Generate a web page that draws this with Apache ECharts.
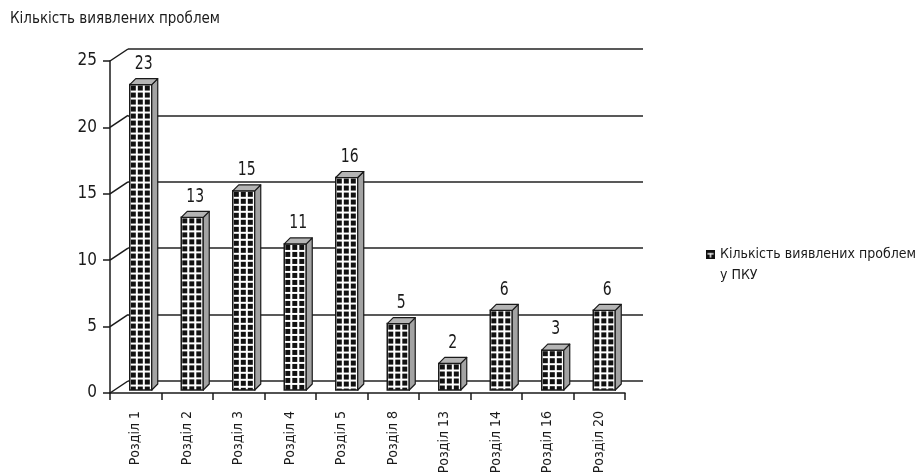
<!DOCTYPE html>
<html>
<head>
<meta charset="utf-8">
<script src="https://cdn.jsdelivr.net/npm/echarts@6/dist/echarts.min.js"></script>
<style>
  html, body { margin: 0; padding: 0; background: #ffffff; }
  #chart { width: 920px; height: 476px; }
</style>
</head>
<body>
<div id="chart"></div>
<script>
// Problems found per section of the tax code
const categories = ['Розділ 1', 'Розділ 2', 'Розділ 3', 'Розділ 4', 'Розділ 5',
                    'Розділ 8', 'Розділ 13', 'Розділ 14', 'Розділ 16', 'Розділ 20'];
const problemCounts = [23, 13, 15, 11, 16, 5, 2, 6, 3, 6];
const yTicks = [0, 5, 10, 15, 20, 25];
const seriesName = 'Кількість виявлених проблем\nу ПКУ';
const chartTitle = 'Кількість виявлених проблем';

const FONT = '"DejaVu Sans Condensed", "Liberation Sans", "Noto Sans", sans-serif';
const INK = '#1a1a1a';
const WALL_DX = 18, WALL_DY = -12;   // depth of the back wall
const BAR_DX = 6, BAR_DY = -6;       // depth of each bar
const BAR_SHIFT = 5, BAR_HALF = 11;  // front face placement inside the band
const BAR_LIFT = 3;                  // bars stand slightly behind the front edge

// black tile crossed by white lines: the "window grid" fill of the bars
function makeTile(size, gap) {
  const c = document.createElement('canvas');
  c.width = size; c.height = size;
  const g = c.getContext('2d');
  g.fillStyle = '#111';
  g.fillRect(0, 0, size, size);
  g.fillStyle = '#fff';
  g.fillRect(size - gap, 0, gap, size);
  g.fillRect(0, size - gap, size, gap);
  return c;
}
const tile = makeTile(7, 2);

function makeLegendIcon() {
  const c = document.createElement('canvas');
  c.width = 10; c.height = 10;
  const g = c.getContext('2d');
  g.fillStyle = '#111';
  g.fillRect(0, 0, 10, 10);
  g.fillStyle = '#fff';
  g.fillRect(1.5, 3.5, 7, 1.5);
  g.fillRect(4.2, 3.5, 1.5, 5);
  return c.toDataURL();
}

const chart = echarts.init(document.getElementById('chart'), null, { renderer: 'canvas' });

function renderWallEdges(params, api) {
  const p = api.coord([0, api.value(1)]);
  const half = api.size([1, 0])[0] / 2;
  const x0 = p[0] - half;
  return {
    type: 'line',
    shape: { x1: x0, y1: p[1], x2: x0 + WALL_DX, y2: p[1] + WALL_DY },
    style: { stroke: INK, lineWidth: 1.5 }
  };
}

function renderBar(params, api) {
  const i = api.value(0), v = api.value(1);
  const top = api.coord([i, v]);
  const base = api.coord([i, 0]);
  const cx = top[0] + BAR_SHIFT;
  const xl = cx - BAR_HALF, xr = cx + BAR_HALF;
  const yt = top[1] - BAR_LIFT, yb = base[1] - BAR_LIFT;
  return {
    type: 'group',
    children: [
      {
        type: 'rect',
        shape: { x: xl, y: yt, width: xr - xl, height: yb - yt },
        style: {
          fill: { image: tile, repeat: 'repeat', x: xl + 1, y: yt + 1 },
          stroke: INK, lineWidth: 1.5
        }
      },
      {
        type: 'polygon',
        shape: { points: [[xr, yt], [xr + BAR_DX, yt + BAR_DY], [xr + BAR_DX, yb + BAR_DY], [xr, yb]] },
        style: { fill: '#a3a3a3', stroke: INK, lineWidth: 1.2, lineJoin: 'round' }
      },
      {
        type: 'polygon',
        shape: { points: [[xl, yt], [xl + BAR_DX, yt + BAR_DY], [xr + BAR_DX, yt + BAR_DY], [xr, yt]] },
        style: { fill: '#b5b5b5', stroke: INK, lineWidth: 1.2, lineJoin: 'round' }
      },
      {
        type: 'text',
        x: cx + 3, y: yt - 11, scaleX: 0.78,
        style: {
          text: String(v), x: 0, y: 0,
          align: 'center', verticalAlign: 'bottom',
          font: '20px ' + FONT, fill: INK
        }
      }
    ]
  };
}

const axisLineStyle = { color: INK, width: 1.5 };

chart.setOption({
  animation: false,
  backgroundColor: '#ffffff',
  title: {
    text: chartTitle, left: 10, top: 12, padding: 0,
    textStyle: { fontFamily: FONT, fontSize: 15, fontWeight: 'normal', color: INK }
  },
  legend: {
    data: [{ name: seriesName, icon: 'image://' + makeLegendIcon() }],
    formatter: name => ' \n' + name,
    left: 706, top: 223, padding: 0, orient: 'vertical',
    itemWidth: 9, itemHeight: 9, itemGap: 4,
    selectedMode: false,
    textStyle: { fontFamily: FONT, fontSize: 14, color: INK, lineHeight: 21 }
  },
  grid: [
    { left: 110, right: 295, top: 61, bottom: 83, outerBoundsMode: 'none' },
    { left: 110 + WALL_DX, right: 295 - WALL_DX, top: 61 + WALL_DY, bottom: 83 - WALL_DY, outerBoundsMode: 'none' }
  ],
  xAxis: [
    {
      type: 'category', gridIndex: 0, data: categories, boundaryGap: true,
      axisLine: { show: true, lineStyle: axisLineStyle },
      axisTick: { show: true, length: 7, lineStyle: axisLineStyle },
      axisLabel: { rotate: 90, margin: 18, fontFamily: FONT, fontSize: 14, color: INK, interval: 0 },
      splitLine: { show: false }
    },
    {
      type: 'category', gridIndex: 1, data: categories, boundaryGap: true,
      axisLine: { show: false }, axisTick: { show: false }, axisLabel: { show: false },
      splitLine: { show: false }
    }
  ],
  yAxis: [
    {
      type: 'value', gridIndex: 0, min: 0, max: 25, interval: 5,
      axisLine: { show: true, lineStyle: axisLineStyle },
      axisTick: { show: true, length: 7, lineStyle: axisLineStyle },
      axisLabel: { margin: 13, fontFamily: FONT, fontSize: 17, color: INK },
      splitLine: { show: false }
    },
    {
      type: 'value', gridIndex: 1, min: 0, max: 25, interval: 5,
      axisLine: { show: false }, axisTick: { show: false }, axisLabel: { show: false },
      splitLine: { show: true, lineStyle: { color: '#222', width: 1.5 } }
    }
  ],
  series: [
    {
      name: 'wall-edges', type: 'custom', xAxisIndex: 0, yAxisIndex: 0,
      silent: true, z: 1,
      renderItem: renderWallEdges,
      data: yTicks.map(v => [0, v])
    },
    {
      name: seriesName, type: 'custom', xAxisIndex: 0, yAxisIndex: 0,
      z: 3,
      renderItem: renderBar,
      encode: { x: 0, y: 1 },
      data: problemCounts.map((v, i) => [i, v])
    }
  ]
});
</script>
</body>
</html>
